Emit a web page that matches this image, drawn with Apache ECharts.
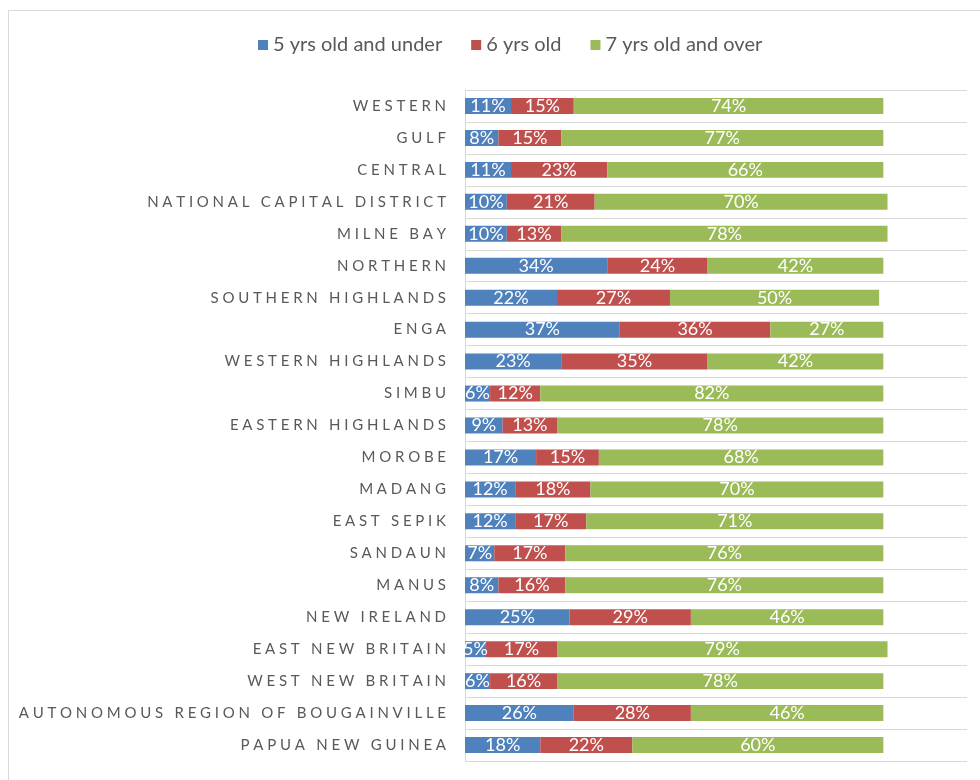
<!DOCTYPE html>
<html>
<head>
<meta charset="utf-8">
<script src="https://cdn.jsdelivr.net/npm/echarts@6/dist/echarts.min.js"></script>
<style>
  html, body { margin: 0; padding: 0; background: #fff; }
  #chart { width: 980px; height: 780px; }
</style>
</head>
<body>
<div id="chart"></div>
<script>
// Provinces, top to bottom
const provinces = [
  'WESTERN', 'GULF', 'CENTRAL', 'NATIONAL CAPITAL DISTRICT', 'MILNE BAY',
  'NORTHERN', 'SOUTHERN HIGHLANDS', 'ENGA', 'WESTERN HIGHLANDS', 'SIMBU',
  'EASTERN HIGHLANDS', 'MOROBE', 'MADANG', 'EAST SEPIK', 'SANDAUN', 'MANUS',
  'NEW IRELAND', 'EAST NEW BRITAIN', 'WEST NEW BRITAIN',
  'AUTONOMOUS REGION OF BOUGAINVILLE', 'PAPUA NEW GUINEA'
];

// Share of pupils (%) by age group
const under5 = [11, 8, 11, 10, 10, 34, 22, 37, 23, 6, 9, 17, 12, 12, 7, 8, 25, 5, 6, 26, 18];
const age6   = [15, 15, 23, 21, 13, 24, 27, 36, 35, 12, 13, 15, 18, 17, 17, 16, 29, 17, 16, 28, 22];
const over7  = [74, 77, 66, 70, 78, 42, 50, 27, 42, 82, 78, 68, 70, 71, 76, 76, 46, 79, 78, 46, 60];

const seriesNames = ['5 yrs old and under', '6 yrs old', '7 yrs old and over'];
const seriesColors = ['#4F81BD', '#C0504D', '#9BBB59'];

// widen the category names with a thin space and two hair spaces between letters
const spaced = s => s.split('').join('\u2009\u200A\u200A');

const chart = echarts.init(document.getElementById('chart'));

const makeSeries = (name, data, color) => ({
  name: name,
  type: 'bar',
  stack: 'total',
  data: data,
  barCategoryGap: '50%',
  itemStyle: { color: color },
  label: {
    show: true,
    position: 'inside',
    formatter: '{c}%',
    color: '#ffffff',
    fontFamily: 'Lato',
    fontSize: 18
  }
});

chart.setOption({
  animation: false,
  backgroundColor: '#ffffff',
  graphic: [{
    type: 'rect',
    shape: { x: 8.5, y: 10.5, width: 1000, height: 800 },
    style: { fill: 'none', stroke: '#d9d9d9', lineWidth: 1 },
    silent: true
  }],
  legend: {
    data: seriesNames,
    top: 30,
    left: 253,
    itemWidth: 10,
    itemHeight: 10,
    itemGap: 29,
    icon: 'rect',
    textStyle: { color: '#595959', fontFamily: 'Lato', fontSize: 20 }
  },
  grid: { left: 465, right: 13, top: 90, bottom: 19, containLabel: false },
  xAxis: {
    type: 'value',
    min: 0,
    max: 120,
    show: false
  },
  yAxis: {
    type: 'category',
    data: provinces,
    inverse: true,
    axisLine: { show: true, lineStyle: { color: '#d9d9d9' } },
    axisTick: { show: false },
    splitLine: { show: true, lineStyle: { color: '#d9d9d9', width: 1 } },
    axisLabel: {
      color: '#595959',
      fontFamily: 'Lato',
      fontSize: 15,
      margin: 19,
      formatter: v => spaced(v)
    }
  },
  series: [
    makeSeries(seriesNames[0], under5, seriesColors[0]),
    makeSeries(seriesNames[1], age6, seriesColors[1]),
    makeSeries(seriesNames[2], over7, seriesColors[2])
  ]
});
</script>
</body>
</html>
